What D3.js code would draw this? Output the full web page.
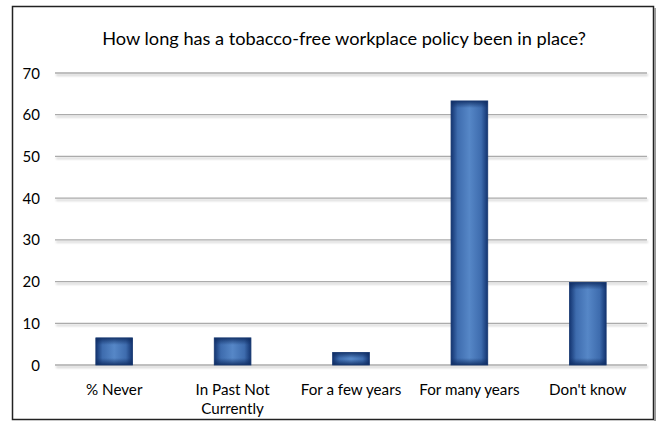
<!DOCTYPE html>
<html><head><meta charset="utf-8">
<script src="https://cdn.jsdelivr.net/npm/d3@7/dist/d3.min.js"></script>
<style>body{margin:0;background:#fff}svg{display:block}text{font-family:Lato,"Liberation Sans",Arial,sans-serif;fill:#000}</style>
</head><body><svg id="c" width="659" height="422"></svg>
<script>
const title = "How long has a tobacco-free workplace policy been in place?";
const categories = ["% Never", "In Past Not Currently", "For a few years", "For many years", "Don't know"];
const values = [6.5, 6.5, 3.0, 63.3, 19.8];
const yTicks = [0, 10, 20, 30, 40, 50, 60, 70];

const svg = d3.select("#c");
const m = {left: 55, right: 12, top: 73, bottom: 57};
const W = 659, H = 422;
const x = d3.scaleBand().domain(categories).range([m.left, W - m.right]).paddingInner(0.69).paddingOuter(0.345);
const y = d3.scaleLinear().domain([0, 70]).range([H - m.bottom, m.top]);

const defs = svg.append("defs");
const hg = defs.append("linearGradient").attr("id", "hg").attr("x1", 0).attr("x2", 1).attr("y1", 0).attr("y2", 0);
[[0, "#133470"], [0.18, "#3e6cae"], [0.5, "#5687c7"], [0.82, "#3e6cae"], [1, "#133470"]]
  .forEach(([o, c]) => hg.append("stop").attr("offset", o).attr("stop-color", c));

const gs = defs.append("filter").attr("id", "lsh").attr("x", -0.1).attr("y", -5).attr("width", 1.2).attr("height", 11);
gs.append("feGaussianBlur").attr("in", "SourceAlpha").attr("stdDeviation", 0.8).attr("result", "b");
gs.append("feOffset").attr("in", "b").attr("dx", 1).attr("dy", 1.5).attr("result", "o");
gs.append("feComponentTransfer").attr("in", "o").attr("result", "o2").append("feFuncA").attr("type", "linear").attr("slope", 0.25);
const gm = gs.append("feMerge"); gm.append("feMergeNode").attr("in", "o2"); gm.append("feMergeNode").attr("in", "SourceGraphic");

// per-bar vertical edge shading
values.forEach((v, i) => {
  const h = y(0) - y(v);
  const e = Math.min(0.45, 7 / h);
  const vg = defs.append("linearGradient").attr("id", "vg" + i).attr("x1", 0).attr("x2", 0).attr("y1", 0).attr("y2", 1);
  vg.append("stop").attr("offset", 0).attr("stop-color", "#0e2b60").attr("stop-opacity", 0.85);
  vg.append("stop").attr("offset", e).attr("stop-color", "#0e2b60").attr("stop-opacity", 0);
  vg.append("stop").attr("offset", 1 - e).attr("stop-color", "#0e2b60").attr("stop-opacity", 0);
  vg.append("stop").attr("offset", 1).attr("stop-color", "#0e2b60").attr("stop-opacity", 0.85);
});

// frame
svg.append("rect").attr("x", 12.5).attr("y", 6.5).attr("width", 641).attr("height", 413)
  .attr("fill", "#fff").attr("stroke", "#222").attr("stroke-width", 1.5);
svg.append("line").attr("x1", 655).attr("x2", 655).attr("y1", 8).attr("y2", 421).attr("stroke", "#999").attr("stroke-width", 2);

// title
svg.append("text").attr("x", 344).attr("y", 45).attr("text-anchor", "middle").attr("font-size", 18.2).text(title);

// grid
const grid = svg.append("g").attr("filter", "url(#lsh)");
grid.selectAll("line").data(yTicks).join("line")
  .attr("x1", m.left).attr("x2", W - m.right)
  .attr("y1", d => y(d)).attr("y2", d => y(d))
  .attr("stroke", "#ababab").attr("stroke-width", 1.3);

// y labels
svg.append("g").selectAll("text").data(yTicks).join("text")
  .attr("x", 40).attr("y", d => y(d) + 5.5).attr("text-anchor", "end").attr("font-size", 15).text(d => d);

// bars
const bars = svg.append("g");
bars.selectAll("rect.b").data(values).join("rect").attr("class", "b")
  .attr("x", (d, i) => x(categories[i])).attr("width", x.bandwidth())
  .attr("y", d => y(d)).attr("height", d => y(0) - y(d))
  .attr("fill", "url(#hg)");
bars.selectAll("rect.v").data(values).join("rect").attr("class", "v")
  .attr("x", (d, i) => x(categories[i])).attr("width", x.bandwidth())
  .attr("y", d => y(d)).attr("height", d => y(0) - y(d))
  .attr("fill", (d, i) => `url(#vg${i})`).attr("stroke", "#1a3a72").attr("stroke-width", 0.8);

// x labels
const words = {"In Past Not Currently": ["In Past Not", "Currently"]};
const xl = svg.append("g").selectAll("text").data(categories).join("text")
  .attr("x", d => x(d) + x.bandwidth() / 2).attr("y", 395).attr("text-anchor", "middle").attr("font-size", 15.2);
xl.each(function(d) {
  const lines = words[d] || [d];
  const t = d3.select(this);
  lines.forEach((l, i) => t.append("tspan").attr("x", x(d) + x.bandwidth() / 2).attr("dy", i ? 19 : 0).text(l));
});
</script></body></html>
